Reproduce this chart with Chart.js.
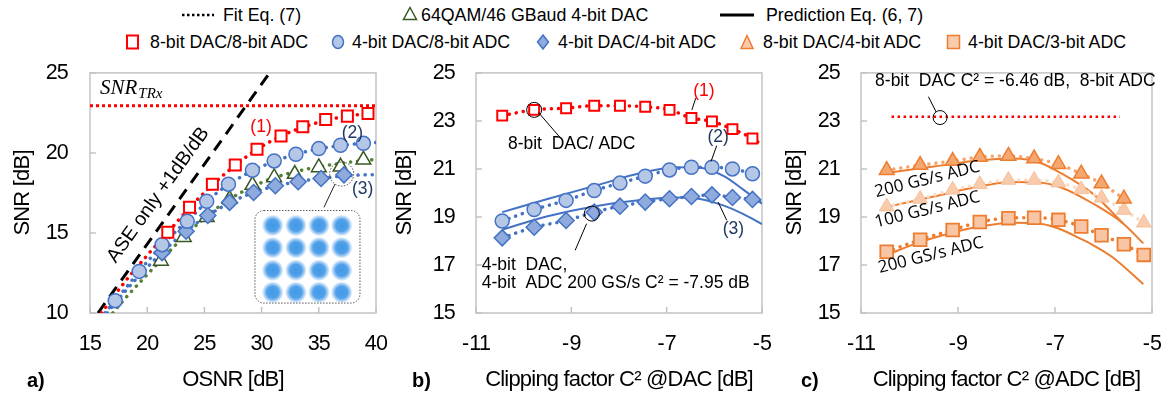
<!DOCTYPE html>
<html>
<head>
<meta charset="utf-8">
<script src="https://cdn.jsdelivr.net/npm/chart.js@4.4.1/dist/chart.umd.min.js"></script>
<style>
  body { margin: 0; width: 1170px; height: 396px; overflow: hidden; position: relative; background: #fff;
         font-family: "Liberation Sans", Arial, sans-serif; color: #000; }
  canvas { position: absolute; top: 60px; }
  .t { position: absolute; font-size: 17.8px; line-height: 20px; white-space: nowrap; }
  .m { position: absolute; }
  .lab { position: absolute; font-size: 20px; font-weight: bold; line-height: 24px; }
</style>
</head>
<body>
<!-- legend, row 1 -->
<svg class="m" style="left:180px;top:5px" width="36" height="20"><line x1="2" y1="10" x2="34" y2="10" stroke="#000" stroke-width="2.5" stroke-dasharray="2.5 2.5"/></svg>
<div class="t" style="left:223px;top:5px">Fit Eq. (7)</div>
<svg class="m" style="left:402px;top:6px" width="16" height="16"><polygon points="8,1.5 14.5,13.5 1.5,13.5" fill="#fff" stroke="#385723" stroke-width="1.5"/></svg>
<div class="t" style="left:421px;top:5px">64QAM/46 GBaud 4-bit DAC</div>
<svg class="m" style="left:718px;top:5px" width="38" height="20"><line x1="2" y1="10" x2="36" y2="10" stroke="#000" stroke-width="3"/></svg>
<div class="t" style="left:766px;top:5px">Prediction Eq. (6, 7)</div>
<!-- legend, row 2 -->
<svg class="m" style="left:125px;top:34px" width="16" height="16"><rect x="2" y="1.5" width="11" height="13" fill="#fff" stroke="#ff0000" stroke-width="2"/></svg>
<div class="t" style="left:150px;top:32px">8-bit DAC/8-bit ADC</div>
<svg class="m" style="left:331px;top:34px" width="16" height="16"><ellipse cx="7" cy="8" rx="5.5" ry="6.5" fill="#b4c7e7" stroke="#4472c4" stroke-width="1.5"/></svg>
<div class="t" style="left:352px;top:32px">4-bit DAC/8-bit ADC</div>
<svg class="m" style="left:536px;top:34px" width="16" height="16"><polygon points="7,1 12.5,8 7,15 1.5,8" fill="#8faadc" stroke="#4472c4" stroke-width="1.5"/></svg>
<div class="t" style="left:558px;top:32px">4-bit DAC/4-bit ADC</div>
<svg class="m" style="left:740px;top:34px" width="16" height="16"><polygon points="7,1.5 13,14.5 1,14.5" fill="#f8cbad" stroke="#ed7d31" stroke-width="1.5"/></svg>
<div class="t" style="left:763px;top:32px">8-bit DAC/4-bit ADC</div>
<svg class="m" style="left:946px;top:34px" width="16" height="16"><rect x="1.5" y="1.5" width="12" height="13" fill="#f8cbad" stroke="#ed7d31" stroke-width="1.5"/></svg>
<div class="t" style="left:968px;top:32px">4-bit DAC/3-bit ADC</div>

<canvas id="chartA" width="390" height="336" style="left:0px"></canvas>
<canvas id="chartB" width="390" height="336" style="left:390px"></canvas>
<canvas id="chartC" width="390" height="336" style="left:780px"></canvas>

<div class="lab" style="left:27px;top:368px">a)</div>
<div class="lab" style="left:412px;top:368px">b)</div>
<div class="lab" style="left:801px;top:368px">c)</div>

<script>
// ---------- a) SNR vs OSNR ----------
const osnrTicks = [15, 20, 25, 30, 35, 40];
const snrTicksA = [10, 15, 20, 25];
const osnr88 = [21.8, 23.7, 25.7, 27.7, 29.6, 31.7, 33.6, 35.6, 37.5, 39.3];
const snr88 = [15.05, 16.6, 18.05, 19.25, 20.23, 21.06, 21.63, 22.09, 22.3, 22.47];
const osnr48 = [17.2, 19.3, 21.3, 23.5, 25.2, 27.1, 29.2, 31.1, 33.0, 35.0, 36.9, 38.9];
const snr48 = [10.77, 12.6, 14.27, 15.73, 16.98, 18.05, 18.92, 19.5, 19.92, 20.27, 20.48, 20.6];
const osnr44 = [21.3, 23.4, 25.3, 27.2, 29.3, 31.2, 33.2, 35.2, 37.2];
const snr44 = [13.77, 15.11, 16.09, 16.91, 17.53, 17.95, 18.2, 18.4, 18.63];
const osnrQam = [21.2, 23.2, 25.2, 27.2, 29.2, 31.1, 32.9, 35.0, 36.9, 38.9];
const snrQam = [13.25, 14.74, 15.98, 17.12, 17.99, 18.47, 18.68, 19.09, 19.13, 19.57];
// fitted curves (Eq. 7)
const fit88X = [16.0, 18, 20, 22, 24, 26, 28, 30, 32, 34, 36, 38, 40];
const fit88Y = [10, 11.9, 13.6, 15.2, 16.8, 18.2, 19.4, 20.4, 21.15, 21.7, 22.1, 22.35, 22.5];
const fit48X = [16.3, 18, 20, 22, 24, 26, 28, 30, 32, 34, 36, 38, 40];
const fit48Y = [10, 11.45, 13.2, 14.75, 16.1, 17.45, 18.42, 19.15, 19.7, 20.1, 20.38, 20.55, 20.65];
const fit44X = [16.5, 18, 20, 22, 24, 26, 28, 30, 32, 34, 36, 38, 40];
const fit44Y = [10, 11.3, 12.85, 14.25, 15.45, 16.4, 17.15, 17.7, 18.05, 18.3, 18.48, 18.6, 18.65];
const fitQamX = [17.0, 18, 20, 22, 24, 26, 28, 30, 32, 34, 36, 38, 40];
const fitQamY = [10, 10.85, 12.4, 13.9, 15.3, 16.5, 17.45, 18.15, 18.65, 19.0, 19.25, 19.45, 19.6];
const aseX = [15.7, 30.7];
const aseY = [10, 25];
const trxX = [15, 40];
const trxY = [22.95, 22.95];

// ---------- b) SNR vs clipping at DAC ----------
const clipTicks = [-11, -9, -7, -5];
const snrTicksB = [15, 17, 19, 21, 23, 25];
const clipDac = [-10.45, -9.78, -9.11, -8.52, -7.98, -7.45, -6.94, -6.48, -6.05, -5.62, -5.2];
const snrB88 = [23.22, 23.46, 23.53, 23.63, 23.63, 23.59, 23.46, 23.12, 22.98, 22.66, 22.27];
const snrB48 = [18.83, 19.31, 19.69, 20.1, 20.41, 20.7, 20.96, 21.07, 21.07, 21.0, 20.8];
const snrB44 = [18.13, 18.57, 18.85, 19.2, 19.45, 19.62, 19.76, 19.85, 19.92, 19.81, 19.73];
const fitDacX = [-10.45, -9.78, -9.11, -8.52, -7.98, -7.45, -6.94, -6.48, -6.05, -5.62, -5.2, -5];
const fitB88 = [23.22, 23.46, 23.53, 23.63, 23.63, 23.59, 23.46, 23.12, 22.98, 22.66, 22.27, 22.0];
const fitB48 = [18.83, 19.31, 19.69, 20.1, 20.41, 20.7, 20.96, 21.07, 21.07, 21.0, 20.8, 20.65];
const fitB44 = [18.13, 18.57, 18.85, 19.2, 19.45, 19.62, 19.76, 19.85, 19.92, 19.81, 19.73, 19.65];
const predDacX = [-10.45, -9.5, -8.5, -7.5, -6.8, -6.3, -5.8, -5.4, -5];
const predB48 = [19.2, 19.75, 20.3, 20.85, 21.07, 21.05, 20.7, 20.15, 19.55];
const predB44 = [18.47, 19.03, 19.45, 19.72, 19.81, 19.75, 19.47, 19.13, 18.7];

// ---------- c) SNR vs clipping at ADC ----------
const clipAdc = [-10.47, -9.78, -9.11, -8.55, -7.96, -7.43, -6.93, -6.46, -6.04, -5.58, -5.17];
const clipAdc84 = [-10.47, -9.78, -9.11, -8.55, -7.96, -7.43, -6.93, -6.46, -6.04, -5.58];
const snrC84 = [20.95, 21.16, 21.33, 21.5, 21.54, 21.43, 21.2, 20.8, 20.39, 19.76];
const snrC84slow = [19.43, 19.75, 20.13, 20.36, 20.54, 20.54, 20.43, 20.15, 19.8, 19.29, 18.76];
const snrC43 = [17.55, 18.05, 18.46, 18.79, 18.95, 18.97, 18.88, 18.6, 18.24, 17.86, 17.42];
const refAdcX = [-10.37, -5.66];
const refAdcY = [23.17, 23.17];
const predC84X = [-10.47, -9.5, -8.55, -7.86, -7.3, -6.9, -6.21, -5.59];
const predC84 = [20.83, 21.1, 21.36, 21.43, 21.25, 20.85, 19.95, 18.72];
const predC84slowX = [-10.47, -9.5, -8.5, -7.9, -7.4, -6.9, -6.21, -5.59, -5.18];
const predC84slow = [19.42, 19.85, 20.3, 20.46, 20.45, 20.25, 19.55, 18.72, 17.9];
const predC43X = [-10.47, -9.78, -9.1, -8.5, -7.86, -7.3, -6.9, -6.48, -6.21, -5.8, -5.18];
const predC43 = [17.42, 17.95, 18.35, 18.62, 18.76, 18.72, 18.5, 18.1, 17.82, 17.3, 16.2];

const FONT = '"Liberation Sans", Arial, sans-serif';
const RED = '#ff0000', BLUE = '#4472c4', NAVY = '#203864', ORANGE = '#ed7d31';

function xy(xs, ys) {
  return xs.map((x, i) => ({ x: x, y: ys[i] }));
}

function markers(xs, ys, style, r, fill, stroke, bw) {
  return {
    data: xy(xs, ys), showLine: false, pointStyle: style, pointRadius: r, pointHoverRadius: r,
    pointBackgroundColor: fill, pointBorderColor: stroke, pointBorderWidth: bw, order: 0
  };
}

function curve(xs, ys, color, width, dash, cap, smooth) {
  return {
    data: xy(xs, ys), showLine: true, pointRadius: 0, pointHoverRadius: 0,
    borderColor: color, borderWidth: width, borderDash: dash || [], borderCapStyle: cap || 'butt',
    cubicInterpolationMode: smooth === false ? 'default' : 'monotone', tension: 0, order: 1
  };
}

const dots = [0.1, 7];

// frame with inward ticks
const frame = {
  id: 'frame',
  beforeDraw(chart) {
    chart.ctx.letterSpacing = '-0.8px';
  },
  beforeDatasetsDraw(chart) {
    const { ctx, chartArea: a, scales: { x, y } } = chart;
    ctx.save();
    ctx.strokeStyle = '#c3c3c3';
    ctx.lineWidth = 1.5;
    ctx.strokeRect(a.left, a.top, a.right - a.left, a.bottom - a.top);
    ctx.beginPath();
    x.ticks.forEach(t => {
      const p = x.getPixelForValue(t.value);
      ctx.moveTo(p, a.bottom); ctx.lineTo(p, a.bottom - 6);
    });
    y.ticks.forEach(t => {
      const p = y.getPixelForValue(t.value);
      ctx.moveTo(a.left, p); ctx.lineTo(a.left + 6, p);
    });
    ctx.stroke();
    ctx.restore();
  }
};

// annotations placed in data coordinates
const notes = {
  id: 'notes',
  afterDatasetsDraw(chart, args, opts) {
    const ctx = chart.ctx, sx = chart.scales.x, sy = chart.scales.y;
    const px = v => sx.getPixelForValue(v), py = v => sy.getPixelForValue(v);
    ctx.save();
    ctx.letterSpacing = '0px';
    (opts.items || []).forEach(n => {
      ctx.strokeStyle = n.color || '#000';
      ctx.fillStyle = n.color || '#000';
      ctx.lineWidth = n.width || 1;
      ctx.setLineDash(n.dash || []);
      if (n.type === 'text') {
        ctx.save();
        ctx.translate(px(n.x), py(n.y));
        let rot = (n.rot || 0) * Math.PI / 180;
        if (n.along) {
          rot = Math.atan2(py(n.along[1][1]) - py(n.along[1][0]), px(n.along[0][1]) - px(n.along[0][0]));
        }
        ctx.rotate(rot);
        ctx.font = n.font || ('17.5px ' + FONT);
        ctx.textAlign = n.align || 'center';
        ctx.textBaseline = 'middle';
        ctx.fillText(n.text, 0, 0);
        ctx.restore();
      } else if (n.type === 'sub') {
        ctx.font = 'italic 21px "Liberation Serif", "DejaVu Serif", serif';
        ctx.textAlign = 'left';
        ctx.textBaseline = 'alphabetic';
        const x0 = px(n.x), y0 = py(n.y);
        ctx.fillText(n.main, x0, y0);
        const w = ctx.measureText(n.main).width;
        ctx.font = 'italic 15px "Liberation Serif", "DejaVu Serif", serif';
        ctx.fillText(n.sub, x0 + w + 1, y0 + 4);
      } else if (n.type === 'circle') {
        ctx.beginPath();
        ctx.arc(px(n.x), py(n.y), n.r, 0, Math.PI * 2);
        ctx.stroke();
      } else if (n.type === 'line') {
        ctx.beginPath();
        ctx.moveTo(px(n.x1), py(n.y1));
        ctx.lineTo(px(n.x2), py(n.y2));
        ctx.stroke();
      } else if (n.type === 'inset') {
        const x1 = px(n.x1), y1 = py(n.y1), x2 = px(n.x2), y2 = py(n.y2);
        ctx.fillStyle = '#fff';
        ctx.beginPath();
        ctx.roundRect(x1, y1, x2 - x1, y2 - y1, 9);
        ctx.fill();
        ctx.stroke();
      } else if (n.type === 'blobs') {
        ctx.setLineDash([]);
        n.ys.forEach(by => n.xs.forEach(bx => {
          const cx = px(bx), cy = py(by);
          const g = ctx.createRadialGradient(cx, cy, 0, cx, cy, n.r);
          g.addColorStop(0, 'rgba(66,152,230,1)');
          g.addColorStop(0.55, 'rgba(72,156,232,0.95)');
          g.addColorStop(0.8, 'rgba(100,170,238,0.5)');
          g.addColorStop(1, 'rgba(140,190,242,0)');
          ctx.fillStyle = g;
          ctx.beginPath();
          ctx.arc(cx, cy, n.r, 0, Math.PI * 2);
          ctx.fill();
        }));
      }
    });
    ctx.restore();
  }
};

function panelOptions(p) {
  return {
    responsive: false,
    animation: false,
    events: [],
    layout: { padding: { left: 0, right: p.padRight, top: 12, bottom: 0 } },
    plugins: { legend: { display: false }, tooltip: { enabled: false }, notes: { items: p.notes } },
    scales: {
      x: {
        type: 'linear', min: p.xTicks[0], max: p.xTicks[p.xTicks.length - 1],
        afterBuildTicks: s => { s.ticks = p.xTicks.map(v => ({ value: v })); },
        afterFit: s => { s.height = 83; },
        // tickLength only shifts the labels; the visible ticks are drawn by the frame plugin
        grid: { display: false, drawTicks: true, tickLength: 18 }, border: { display: false },
        ticks: { padding: 0, color: '#000', font: { family: FONT, size: 21.5 }, maxRotation: 0, autoSkip: false,
                 callback: v => String(v).replace('-', '-\u200A') },
        title: { display: true, text: p.xTitle, color: '#000', font: { family: FONT, size: 22 }, padding: { top: 0, bottom: 3 } }
      },
      y: {
        type: 'linear', min: p.yTicks[0], max: p.yTicks[p.yTicks.length - 1],
        afterBuildTicks: s => { s.ticks = p.yTicks.map(v => ({ value: v })); },
        afterFit: s => { s.width = p.yWidth; },
        grid: { display: false, drawTicks: true, tickLength: p.yPad }, border: { display: false },
        ticks: { padding: 0, color: '#000', font: { family: FONT, size: 21.5 }, autoSkip: false },
        title: { display: true, text: 'SNR [dB]', color: '#000', font: { family: FONT, size: 22 }, padding: { top: p.yTitlePad, bottom: 0 } }
      }
    }
  };
}

// ---------- chart a ----------
new Chart(document.getElementById('chartA'), {
  type: 'scatter',
  data: {
    datasets: [
      markers(osnr88, snr88, 'rect', 7.8, '#fff', RED, 2),
      markers(osnr48, snr48, 'circle', 7, '#b4c7e7', BLUE, 1.5),
      markers(osnr44, snr44, 'rectRot', 8, '#8faadc', BLUE, 1.5),
      markers(osnrQam, snrQam, 'triangle', 8.5, '#fff', '#385723', 1.5),
      curve(fit88X, fit88Y, RED, 3.5, dots, 'round'),
      curve(fit48X, fit48Y, BLUE, 3.5, dots, 'round'),
      curve(fit44X, fit44Y, BLUE, 3.5, dots, 'round'),
      curve(fitQamX, fitQamY, '#548235', 3.5, dots, 'round'),
      curve(aseX, aseY, '#000', 3, [12, 8], 'butt', false),
      curve(trxX, trxY, RED, 3, [3, 3], 'butt', false)
    ]
  },
  options: panelOptions({
    xTicks: osnrTicks, yTicks: snrTicksA, xTitle: 'OSNR [dB]', padRight: 14, yWidth: 90, yPad: 22, yTitlePad: 10,
    notes: [
      { type: 'sub', x: 15.87, y: 23.66, main: 'SNR', sub: 'TRx' },
      { type: 'text', x: 20.97, y: 17.37, text: 'ASE only +1dB/dB', along: [aseX, aseY], font: '19.5px ' + FONT },
      { type: 'text', x: 29.95, y: 21.6, text: '(1)', color: RED },
      { type: 'text', x: 37.93, y: 21.22, text: '(2)', color: NAVY },
      { type: 'text', x: 38.84, y: 17.75, text: '(3)', color: NAVY },
      { type: 'circle', x: 37.0, y: 18.68, r: 12, dash: [1.5, 1.5], color: '#444' },
      { type: 'line', x1: 36.42, y1: 18.06, x2: 35.45, y2: 16.6, color: '#222' },
      { type: 'inset', x1: 29.42, y1: 16.4, x2: 38.6, y2: 10.62, dash: [1.5, 1.5], color: '#555' },
      { type: 'blobs', xs: [30.97, 33.0, 35.02, 37.0], ys: [15.47, 14.08, 12.67, 11.29], r: 11 }
    ]
  }),
  plugins: [frame, notes]
});

// ---------- chart b ----------
new Chart(document.getElementById('chartB'), {
  type: 'scatter',
  data: {
    datasets: [
      markers(clipDac, snrB88, 'rect', 7, '#fff', RED, 2),
      markers(clipDac, snrB48, 'circle', 7, '#b4c7e7', BLUE, 1.5),
      markers(clipDac, snrB44, 'rectRot', 8, '#8faadc', BLUE, 1.5),
      curve(fitDacX, fitB88, RED, 3.5, dots, 'round'),
      curve(fitDacX, fitB48, BLUE, 3.5, dots, 'round'),
      curve(fitDacX, fitB44, BLUE, 3.5, dots, 'round'),
      curve(predDacX, predB48, BLUE, 2),
      curve(predDacX, predB44, BLUE, 2)
    ]
  },
  options: panelOptions({
    xTicks: clipTicks, yTicks: snrTicksB, xTitle: 'Clipping factor C² @DAC [dB]', padRight: 18, yWidth: 86, yPad: 21, yTitlePad: 2,
    notes: [
      { type: 'circle', x: -9.78, y: 23.46, r: 7.5 },
      { type: 'line', x1: -9.69, y1: 23.35, x2: -9.24, y2: 22.32 },
      { type: 'text', x: -10.33, y: 22.04, text: '8-bit  DAC/ ADC', align: 'left' },
      { type: 'text', x: -6.22, y: 24.25, text: '(1)', color: RED },
      { type: 'line', x1: -6.39, y1: 23.95, x2: -6.47, y2: 23.46 },
      { type: 'text', x: -5.92, y: 22.32, text: '(2)', color: NAVY },
      { type: 'line', x1: -5.95, y1: 21.97, x2: -6.07, y2: 21.31 },
      { type: 'text', x: -5.6, y: 18.51, text: '(3)', color: NAVY },
      { type: 'line', x1: -5.74, y1: 18.86, x2: -5.92, y2: 19.62 },
      { type: 'circle', x: -8.57, y: 19.14, r: 7.5 },
      { type: 'line', x1: -8.68, y1: 18.72, x2: -8.92, y2: 17.61 },
      { type: 'text', x: -10.88, y: 16.99, text: '4-bit  DAC,', align: 'left' },
      { type: 'text', x: -10.88, y: 16.23, text: '4-bit  ADC 200 GS/s C² = -7.95 dB', align: 'left' }
    ]
  }),
  plugins: [frame, notes]
});

// ---------- chart c ----------
const OPEN = '17px "Open Sans", sans-serif';
new Chart(document.getElementById('chartC'), {
  type: 'scatter',
  data: {
    datasets: [
      markers(clipAdc84, snrC84, 'triangle', 8.5, '#f4a76f', ORANGE, 1.5),
      markers(clipAdc, snrC84slow, 'triangle', 8.5, '#f8cbad', '#f6bf9a', 1),
      markers(clipAdc, snrC43, 'rect', 9, '#f8c6a4', ORANGE, 1.8),
      curve(clipAdc84, snrC84, '#f4a46c', 3.5, dots, 'round'),
      curve(clipAdc, snrC84slow, '#fbdcc7', 3.5, dots, 'round'),
      curve(clipAdc, snrC43, ORANGE, 3.5, dots, 'round'),
      curve(predC84X, predC84, ORANGE, 2),
      curve(predC84slowX, predC84slow, ORANGE, 2),
      curve(predC43X, predC43, ORANGE, 2),
      curve(refAdcX, refAdcY, RED, 2.5, [2.5, 3.5], 'butt', false)
    ]
  },
  options: panelOptions({
    xTicks: clipTicks, yTicks: snrTicksB, xTitle: 'Clipping factor C² @ADC [dB]', padRight: 18, yWidth: 81, yPad: 21, yTitlePad: 2,
    notes: [
      { type: 'circle', x: -9.37, y: 23.14, r: 7 },
      { type: 'line', x1: -9.45, y1: 23.37, x2: -9.61, y2: 24.01 },
      { type: 'text', x: -10.71, y: 24.67, text: '8-bit  DAC C² = -6.46 dB,  8-bit ADC', align: 'left' },
      { type: 'text', x: -9.63, y: 20.56, text: '200 GS/s ADC', rot: -14, font: OPEN },
      { type: 'text', x: -9.63, y: 19.3, text: '100 GS/s ADC', rot: -14, font: OPEN },
      { type: 'text', x: -9.56, y: 17.4, text: '200 GS/s ADC', rot: -14, font: OPEN }
    ]
  }),
  plugins: [frame, notes]
});
</script>
</body>
</html>
